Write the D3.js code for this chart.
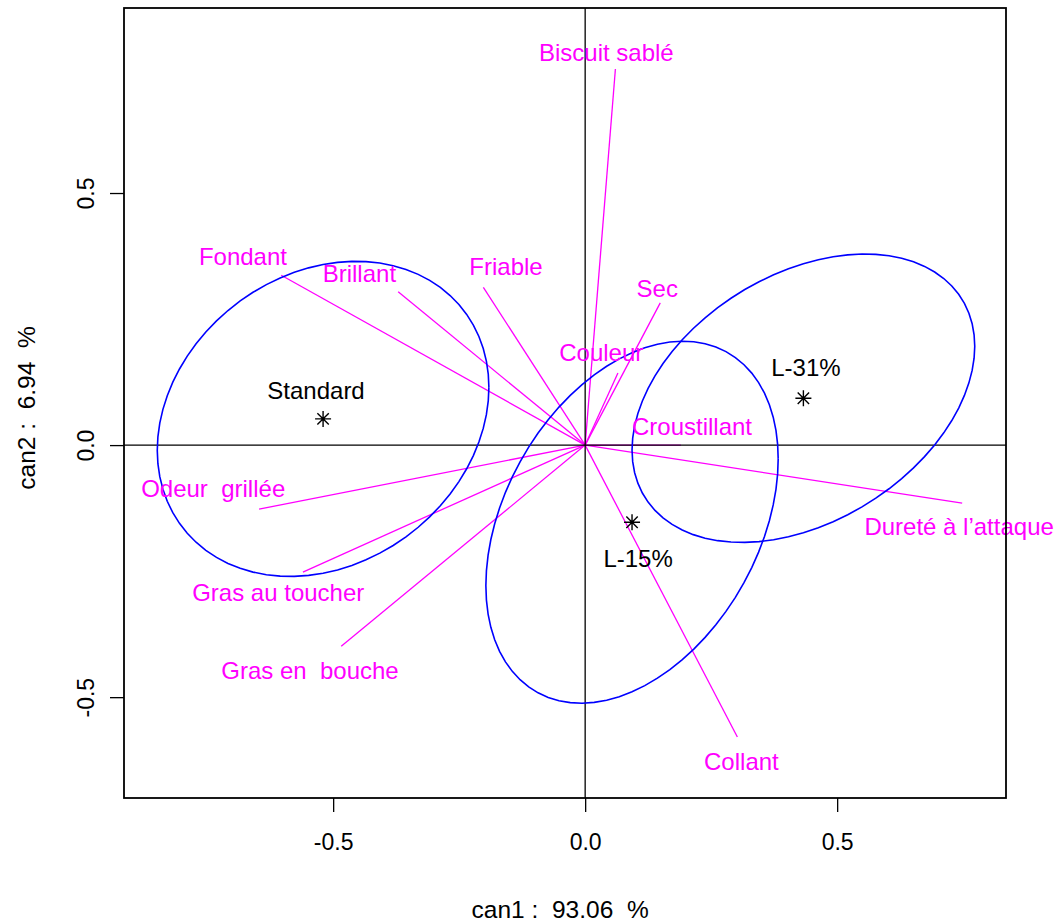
<!DOCTYPE html>
<html>
<head>
<meta charset="utf-8">
<script src="https://cdn.jsdelivr.net/npm/d3@7"></script>
<style>
  html, body { margin: 0; padding: 0; background: #fff; }
  svg { display: block; }
  text { font-family: "Liberation Sans", Arial, Helvetica, sans-serif; white-space: pre; }
</style>
</head>
<body>
<svg id="chart" width="1063" height="924"></svg>
<script>
// ---- data ----
const variables = ["Biscuit sablé", "Fondant", "Brillant", "Friable", "Sec", "Couleur",
  "Croustillant", "Dureté à l’attaque", "Collant", "Gras en  bouche", "Gras au toucher", "Odeur  grillée"];
const varCan1 = [0.060, -0.603, -0.371, -0.202, 0.149, 0.065, 0.190, 0.748, 0.302, -0.484, -0.560, -0.647];
const varCan2 = [0.746, 0.337, 0.304, 0.313, 0.282, 0.143, 0.000, -0.115, -0.579, -0.399, -0.252, -0.127];
const varLabelCan1 = [0.042, -0.679, -0.448, -0.157, 0.143, 0.032, 0.212, 0.742, 0.310, -0.546, -0.609, -0.738];
const varLabelCan2 = [0.778, 0.375, 0.341, 0.355, 0.310, 0.183, 0.036, -0.161, -0.627, -0.448, -0.292, -0.087];

const groups = ["Standard", "L-31%", "L-15%"];
const groupCan1 = [-0.520, 0.433, 0.093];
const groupCan2 = [0.052, 0.093, -0.153];
const groupLabelCan1 = [-0.534, 0.438, 0.105];
const groupLabelCan2 = [0.109, 0.153, -0.224];
// confidence ellipses: half-extent along can1, half-extent along can2, correlation
const ellipseCan1Radius = [0.329, 0.340, 0.290];
const ellipseCan2Radius = [0.3125, 0.286, 0.359];
const ellipseCorr = [0.20, 0.36, 0.35];

const xTicks = [-0.5, 0.0, 0.5];
const yTicks = [-0.5, 0.0, 0.5];
const xTitle = "can1 :  93.06  %";
const yTitle = "can2 :  6.94  %";

// ---- layout ----
const svg = d3.select("#chart");
const L = 124, R = 1006, T = 8, B = 798;
const x = d3.scaleLinear().domain([-0.915, 0.835]).range([L, R]);
const y = d3.scaleLinear().domain([-0.700, 0.867]).range([B, T]);
const MAG = "#FF00FF", BLUE = "#0000FF";
const fmt = d => d3.format(".1f")(d).replace("\u2212", "-");

const plot = svg.append("g");

// variable vectors (drawn first)
variables.forEach((v, i) => {
  plot.append("line")
    .attr("x1", x(0)).attr("y1", y(0))
    .attr("x2", x(varCan1[i])).attr("y2", y(varCan2[i]))
    .attr("stroke", MAG).attr("stroke-width", 1.3);
});

// reference axes through origin
plot.append("line").attr("x1", L).attr("x2", R).attr("y1", y(0)).attr("y2", y(0))
  .attr("stroke", "#000").attr("stroke-width", 1.3);
plot.append("line").attr("x1", x(0)).attr("x2", x(0)).attr("y1", T).attr("y2", B)
  .attr("stroke", "#000").attr("stroke-width", 1.3);

// ellipses
const line = d3.line().x(d => x(d[0])).y(d => y(d[1]));
groups.forEach((g, i) => {
  const a = ellipseCan1Radius[i], b = ellipseCan2Radius[i], r = ellipseCorr[i];
  const s = Math.sqrt(1 - r * r);
  const pts = d3.range(0, 73).map(k => {
    const t = k / 72 * 2 * Math.PI;
    return [groupCan1[i] + a * Math.cos(t), groupCan2[i] + b * (r * Math.cos(t) + s * Math.sin(t))];
  });
  plot.append("path").attr("d", line(pts)).attr("fill", "none")
    .attr("stroke", BLUE).attr("stroke-width", 1.6);
});

// variable labels
variables.forEach((v, i) => {
  plot.append("text")
    .attr("x", x(varLabelCan1[i])).attr("y", y(varLabelCan2[i]))
    .attr("text-anchor", "middle").attr("dominant-baseline", "central")
    .attr("font-size", 24).attr("fill", MAG).text(v);
});

// group points (asterisks) and labels
groups.forEach((g, i) => {
  const cx = x(groupCan1[i]), cy = y(groupCan2[i]), h = 8, d = 5.7;
  const p = `M${cx - h},${cy}L${cx + h},${cy}M${cx},${cy - h}L${cx},${cy + h}` +
    `M${cx - d},${cy - d}L${cx + d},${cy + d}M${cx - d},${cy + d}L${cx + d},${cy - d}`;
  plot.append("path").attr("d", p).attr("stroke", "#000").attr("stroke-width", 1.4).attr("fill", "none");
  plot.append("text")
    .attr("x", x(groupLabelCan1[i])).attr("y", y(groupLabelCan2[i]))
    .attr("text-anchor", "middle").attr("dominant-baseline", "central")
    .attr("font-size", 24).attr("fill", "#000").text(g);
});

// frame
svg.append("rect").attr("x", L).attr("y", T).attr("width", R - L).attr("height", B - T)
  .attr("fill", "none").attr("stroke", "#000").attr("stroke-width", 1.8);

// axes
const xAxis = svg.append("g").attr("transform", `translate(0,${B})`)
  .call(d3.axisBottom(x).tickValues(xTicks).tickFormat(fmt).tickSizeOuter(0).tickSize(14).tickPadding(22));
xAxis.select(".domain").remove();
xAxis.selectAll("line").attr("stroke", "#000").attr("stroke-width", 1.3);
xAxis.selectAll("text").attr("font-size", 23).attr("fill", "#000")
  .attr("font-family", "Liberation Sans, Arial, sans-serif");

const yAxis = svg.append("g").attr("transform", `translate(${L},0)`)
  .call(d3.axisLeft(y).tickValues(yTicks).tickFormat(fmt).tickSizeOuter(0).tickSize(14));
yAxis.select(".domain").remove();
yAxis.selectAll("line").attr("stroke", "#000").attr("stroke-width", 1.3);
yAxis.selectAll("text").remove();
yAxis.selectAll(".tick").append("text")
  .attr("transform", "translate(-38,0) rotate(-90)")
  .attr("text-anchor", "middle").attr("dominant-baseline", "central")
  .attr("font-size", 23).attr("fill", "#000")
  .text(fmt);

// titles
svg.append("text").attr("x", x(0) - 25).attr("y", 909)
  .attr("text-anchor", "middle").attr("dominant-baseline", "central")
  .attr("font-size", 24.5).attr("fill", "#000").text(xTitle);
svg.append("text").attr("transform", `translate(26,${408}) rotate(-90)`)
  .attr("text-anchor", "middle").attr("dominant-baseline", "central")
  .attr("font-size", 24.5).attr("fill", "#000").text(yTitle);
</script>
</body>
</html>
